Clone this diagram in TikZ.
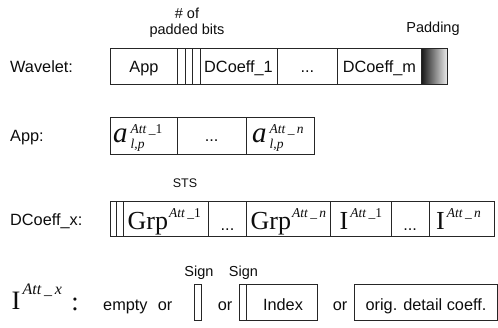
\documentclass[tikz,border=0pt]{standalone}
\usepackage{fontspec}
\usepackage{graphicx}
\setmainfont{Liberation Sans}
\newfontfamily\tms{Liberation Serif}
\usetikzlibrary{fit}
\newcommand\bigser{\tms\fontsize{26}{26}\selectfont}
\newcommand\supfont{\tms\fontsize{13.5}{14}\selectfont}
\newcommand\attone{\textit{Att}\,\_1}
\newcommand\attn{\textit{Att}\,\_\,\textit{n}}
\tikzset{
  cell/.style={draw=black!85, line width=0.8pt, inner sep=0pt, outer sep=0pt},
  lbl/.style={text=black!95, inner sep=0pt, font=\fontsize{16.3}{18}\selectfont, anchor=base},
  small/.style={text=black!95, inner sep=0pt, font=\fontsize{14.5}{16}\selectfont, anchor=base},
  mth/.style={text=black!95, inner sep=0pt, anchor=base west},
}
\begin{document}
\begin{tikzpicture}[x=1pt,y=-1pt]
\useasboundingbox (0,0) rectangle (498,327);
% ---------- Wavelet row ----------
\node[lbl, anchor=base west] (lw) at (10,72.7) {Wavelet:};
\node[cell, fit={(110,48) (177.7,84)}] (w1) {};
\node[cell, fit={(177.7,48) (185.3,84)}] (w2) {};
\node[cell, fit={(185.3,48) (192.3,84)}] (w3) {};
\node[cell, fit={(192.3,48) (200,84)}] (w4) {};
\node[cell, fit={(200,48) (277,84)}] (w5) {};
\node[cell, fit={(277,48) (337.7,84)}] (w6) {};
\node[cell, fit={(337.7,48) (421,84)}] (w7) {};
\node[cell, fit={(421,48) (447,84)}, left color=black!92, right color=black!8] (w8) {};
\node[lbl] (tw1) at (143.9,72.7) {App};
\node[lbl] (tw5) at (238.5,72.7) {DCoeff\_1};
\node[lbl] (tw6) at (307.4,72.7) {...};
\node[lbl] (tw7) at (379.4,72.7) {DCoeff\_m};
\node[small] (np1) at (187,18) {\# of};
\node[small] (np2) at (187,34) {padded bits};
\node[small] (npad) at (433,32) {Padding};
% ---------- App row ----------
\node[lbl, anchor=base west] (la) at (10,141.5) {App:};
\node[cell, fit={(110,117.3) (177.3,154)}] (a1) {};
\node[cell, fit={(177.3,117.3) (246,154)}] (a2) {};
\node[cell, fit={(246,117.3) (314,154)}] (a3) {};
\node[mth] (ta1) at (113,142) {\tms\fontsize{29}{29}\selectfont\itshape a\kern3pt\rlap{\raisebox{9pt}{\supfont\upshape\attone}}\raisebox{-6pt}{\supfont\itshape l,p}};
\node[lbl] (ta2) at (211.6,141.5) {...};
\node[mth] (ta3) at (252,142) {\tms\fontsize{29}{29}\selectfont\itshape a\kern3pt\rlap{\raisebox{9pt}{\supfont\upshape\attn}}\raisebox{-6pt}{\supfont\itshape l,p}};
% ---------- DCoeff_x row ----------
\node[small, font=\fontsize{12.5}{14}\selectfont] (nsts) at (185,187.5) {STS};
\node[lbl, anchor=base west] (ld) at (10,225) {DCoeff\_x:};
\node[cell, fit={(110,201) (116,236.7)}] (d1) {};
\node[cell, fit={(116,201) (123.3,236.7)}] (d2) {};
\node[cell, fit={(123.3,201) (208.3,236.7)}] (d3) {};
\node[cell, fit={(208.3,201) (246.7,236.7)}] (d4) {};
\node[cell, fit={(246.7,201) (330.7,236.7)}] (d5) {};
\node[cell, fit={(330.7,201) (391,236.7)}] (d6) {};
\node[cell, fit={(391,201) (429.3,236.7)}] (d7) {};
\node[cell, fit={(429.3,201) (494,236.7)}] (d8) {};
\node[mth] (td3) at (127.5,229.5) {\bigser Grp\kern1pt\raisebox{12.5pt}{\supfont\attone}};
\node[lbl] (td4) at (227.5,230) {...};
\node[mth] (td5) at (250.5,229.5) {\bigser Grp\kern1pt\raisebox{12.5pt}{\supfont\attn}};
\node[mth] (td6) at (339.5,229.5) {\bigser I\kern2pt\raisebox{12.5pt}{\supfont\attone}};
\node[lbl] (td7) at (410.2,230) {...};
\node[mth] (td8) at (436,229.5) {\bigser I\kern2pt\raisebox{12.5pt}{\supfont\attn}};
% ---------- I^{Att_x} row ----------
\node[mth] (li) at (11.5,309.3) {\tms\fontsize{26.6}{27}\selectfont I\kern2pt\raisebox{14.5pt}{\tms\fontsize{16}{16}\selectfont\textit{Att}\,\_\,\textit{x}}};
\node[mth, anchor=base] (lcolon) at (75,310) {\tms\fontsize{26.6}{27}\selectfont :};
\node[lbl, anchor=base west] (te) at (103,310) {empty};
\node[lbl] (to1) at (165,310) {or};
\node[small] (ns1) at (199,276) {Sign};
\node[cell, fit={(194.3,284.3) (201.7,320.5)}] (s1) {};
\node[lbl] (to2) at (225,310) {or};
\node[small] (ns2) at (243.5,276) {Sign};
\node[cell, fit={(239.3,284.3) (246.5,320.5)}] (x1) {};
\node[cell, fit={(246.5,284.3) (317,320.5)}] (x2) {};
\node[lbl] (tx2) at (283,310) {Index};
\node[lbl] (to3) at (340,310) {or};
\node[cell, fit={(354,284.3) (497,320.5)}] (o1) {};
\node[lbl] (to4) at (426,310) {orig. detail coeff.};
\end{tikzpicture}
\end{document}
